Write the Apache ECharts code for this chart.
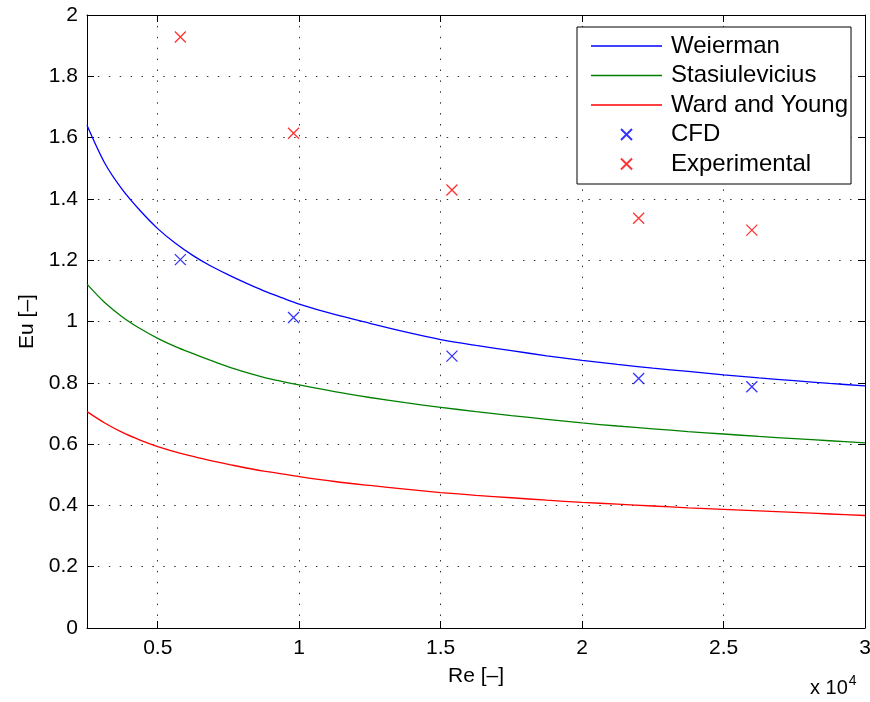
<!DOCTYPE html>
<html>
<head>
<meta charset="utf-8">
<script src="https://cdn.jsdelivr.net/npm/echarts@6/dist/echarts.min.js"></script>
<style>html,body{margin:0;padding:0;background:#fff}#c{width:870px;height:702px}</style>
</head>
<body>
<div id="c"></div>
<script>
// Curve sample abscissae (Re) and values
const reCurve = [2500, 3125, 3750, 4375, 5000, 5625, 6250, 6875, 7500, 8125, 8750, 9375, 10000, 11250, 12500, 13750, 15000, 16250, 17500, 18750, 20000, 21250, 22500, 23750, 25000, 26250, 27500, 28750, 30000];
const weierman = [1.640, 1.517, 1.430, 1.362, 1.303, 1.255, 1.215, 1.181, 1.152, 1.125, 1.100, 1.078, 1.057, 1.023, 0.994, 0.966, 0.941, 0.922, 0.905, 0.888, 0.873, 0.860, 0.848, 0.837, 0.826, 0.816, 0.807, 0.798, 0.790];
const stasiulevicius = [1.122, 1.062, 1.015, 0.977, 0.945, 0.918, 0.895, 0.873, 0.852, 0.834, 0.818, 0.805, 0.793, 0.771, 0.752, 0.735, 0.720, 0.706, 0.693, 0.681, 0.669, 0.659, 0.650, 0.641, 0.633, 0.625, 0.618, 0.611, 0.604];
const wardYoung = [0.706, 0.669, 0.638, 0.613, 0.592, 0.575, 0.560, 0.546, 0.534, 0.522, 0.512, 0.503, 0.494, 0.478, 0.465, 0.453, 0.442, 0.433, 0.425, 0.417, 0.410, 0.404, 0.398, 0.392, 0.387, 0.382, 0.377, 0.372, 0.367];
// Point data
const rePoints = [5800, 9800, 15400, 22000, 26000];
const cfd = [1.202, 1.013, 0.887, 0.814, 0.787];
const experimental = [1.928, 1.614, 1.429, 1.337, 1.298];
// Ticks
const xTicks = [5000, 10000, 15000, 20000, 25000, 30000];
const seriesNames = ['Weierman', 'Stasiulevicius', 'Ward and Young', 'CFD', 'Experimental'];

const FONT = 'Liberation Sans, Arial, Helvetica, sans-serif';
const cross = 'path://M0,0L10,10M10,0L0,10';
const lineIcon = 'path://M0,0H71V1.3H0Z';
const pair = (xs, ys) => xs.map((x, i) => [x, ys[i]]);

const gridLine = {show: true, lineStyle: {color: '#333', width: 1, type: [1.5, 9.4]}};
const tickStyle = {show: true, inside: true, length: 7, lineStyle: {color: '#000', width: 1}};

const chart = echarts.init(document.getElementById('c'), null, {renderer: 'canvas'});
chart.setOption({
  animation: false,
  backgroundColor: '#fff',
  grid: {left: 87, right: 5, top: 15, bottom: 74, containLabel: false, outerBoundsMode: 'none'},
  xAxis: [{
    type: 'value', min: 2500, max: 30000,
    name: 'Re [–]', nameLocation: 'middle', nameGap: 38,
    nameTextStyle: {fontFamily: FONT, fontSize: 21, color: '#000'},
    axisLine: {show: true, onZero: false, lineStyle: {color: '#000', width: 1}},
    axisTick: Object.assign({customValues: xTicks}, tickStyle),
    axisLabel: {customValues: xTicks, formatter: v => String(+(v / 10000).toFixed(2)), fontFamily: FONT, fontSize: 21, color: '#000', margin: 10},
    splitLine: gridLine
  }, {
    type: 'value', min: 2500, max: 30000, position: 'top',
    axisLine: {show: true, onZero: false, lineStyle: {color: '#000', width: 1}},
    axisTick: Object.assign({customValues: xTicks}, tickStyle),
    axisLabel: {show: false, customValues: xTicks},
    splitLine: {show: false}
  }],
  yAxis: [{
    type: 'value', min: 0, max: 2, interval: 0.2,
    name: 'Eu [–]', nameLocation: 'middle', nameGap: 43, nameRotate: 90,
    nameTextStyle: {fontFamily: FONT, fontSize: 21, color: '#000'},
    axisLine: {show: true, onZero: false, lineStyle: {color: '#000', width: 1}},
    axisTick: tickStyle,
    axisLabel: {formatter: v => String(+v.toFixed(1)), fontFamily: FONT, fontSize: 21, color: '#000', margin: 9},
    splitLine: gridLine
  }, {
    type: 'value', min: 0, max: 2, interval: 0.2, position: 'right',
    axisLine: {show: true, onZero: false, lineStyle: {color: '#000', width: 1}},
    axisTick: tickStyle,
    axisLabel: {show: false},
    splitLine: {show: false}
  }],
  legend: {
    orient: 'vertical', left: 577, top: 27,
    padding: [7, 3, 8, 14],
    backgroundColor: '#fff', borderColor: '#000', borderWidth: 1, borderRadius: 0,
    itemWidth: 71, itemHeight: 11, itemGap: 5.5,
    textStyle: {fontFamily: FONT, fontSize: 24, color: '#000', lineHeight: 21, padding: [0, 0, 0, 4]},
    data: [
      {name: seriesNames[0], icon: lineIcon}, {name: seriesNames[1], icon: lineIcon}, {name: seriesNames[2], icon: lineIcon},
      {name: seriesNames[3], icon: cross}, {name: seriesNames[4], icon: cross}
    ]
  },
  graphic: [{
    type: 'text', left: 810, top: 674,
    style: {
      text: 'x 10{sup|4}', fill: '#000',
      font: '20px ' + FONT,
      rich: {sup: {fontSize: 14, fontFamily: FONT, verticalAlign: 'top', padding: [0, 0, 14, 1]}}
    }
  }],
  series: [
    {name: seriesNames[0], type: 'line', data: pair(reCurve, weierman), symbol: 'none', smooth: 0.3, lineStyle: {color: '#0000ff', width: 1.3}, itemStyle: {color: '#0000ff'}},
    {name: seriesNames[1], type: 'line', data: pair(reCurve, stasiulevicius), symbol: 'none', smooth: 0.3, lineStyle: {color: '#008000', width: 1.3}, itemStyle: {color: '#008000'}},
    {name: seriesNames[2], type: 'line', data: pair(reCurve, wardYoung), symbol: 'none', smooth: 0.3, lineStyle: {color: '#ff0000', width: 1.3}, itemStyle: {color: '#ff0000'}},
    {name: seriesNames[3], type: 'scatter', data: pair(rePoints, cfd), symbol: cross, symbolSize: 11, itemStyle: {color: 'rgba(0,0,0,0)', borderColor: '#0000ff', borderWidth: 1.3}},
    {name: seriesNames[4], type: 'scatter', data: pair(rePoints, experimental), symbol: cross, symbolSize: 11, itemStyle: {color: 'rgba(0,0,0,0)', borderColor: '#ff0000', borderWidth: 1.3}}
  ]
});
</script>
</body>
</html>
